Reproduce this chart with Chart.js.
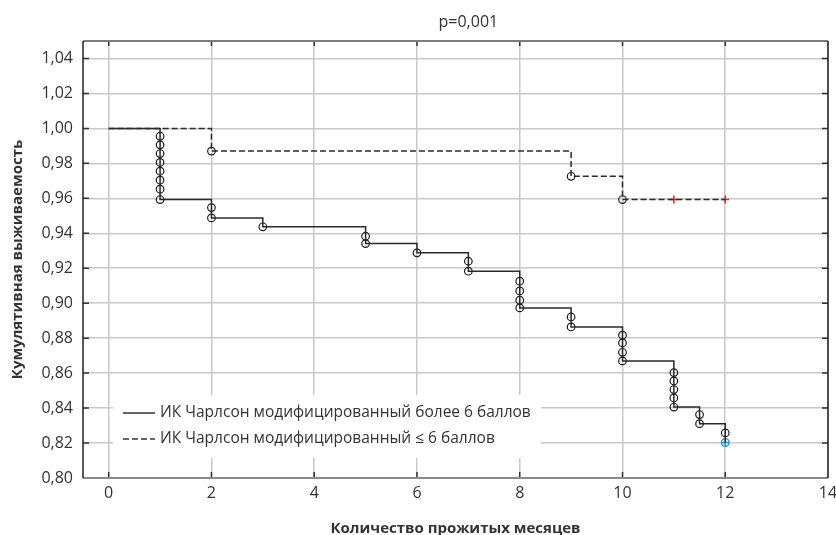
<!DOCTYPE html>
<html>
<head>
<meta charset="utf-8">
<script src="https://cdn.jsdelivr.net/npm/chart.js@4.4.1/dist/chart.umd.min.js"></script>
<style>
    html, body { margin: 0; padding: 0; background: #fff; }
    #wrap { width: 836px; height: 535px; }
</style>
</head>
<body>
<div id="wrap"><canvas id="km"></canvas></div>
<script>
// кривые выживаемости Каплана-Мейера, две группы по ИК Чарлсон

// группа "более 6 баллов" (сплошная линия)
var timeHigh = [0, 1, 2, 3, 5, 6, 7, 8, 9, 10, 11, 11.5, 12];
var survHigh = [1.000, 0.9593, 0.9488, 0.9437, 0.9341, 0.9288, 0.9183, 0.8973, 0.8864, 0.8670, 0.8406, 0.8311, 0.8203];

// события (кружки) для сплошной линии
var eventTimeHigh = [1, 1, 1, 1, 1, 1, 1, 1, 2, 2, 3, 5, 5, 6, 7, 7, 8, 8, 8, 8, 9, 9, 10, 10, 10, 10, 11, 11, 11, 11, 11, 11.5, 11.5, 12];
var eventSurvHigh = [0.9955, 0.9906, 0.9856, 0.9805, 0.9755, 0.9704, 0.9652, 0.9593,
    0.9547, 0.9488, 0.9437, 0.9383, 0.9341, 0.9288, 0.9240, 0.9183,
    0.9126, 0.9070, 0.9017, 0.8973, 0.8921, 0.8864,
    0.8817, 0.8773, 0.8719, 0.8670, 0.8603, 0.8555, 0.8506, 0.8458, 0.8406,
    0.8363, 0.8311, 0.8258];

// последняя точка (синяя метка)
var lastTimeHigh = [12];
var lastSurvHigh = [0.8203];

// группа "<= 6 баллов" (пунктир)
var timeLow = [0, 2, 9, 10, 12];
var survLow = [1.000, 0.9870, 0.9726, 0.9593, 0.9593];
var eventTimeLow = [2, 9, 10];
var eventSurvLow = [0.9870, 0.9726, 0.9593];
// цензурированные (красные крестики)
var censTimeLow = [11, 12];
var censSurvLow = [0.9593, 0.9593];

var seriesNames = ['ИК Чарлсон модифицированный более 6 баллов', 'ИК Чарлсон модифицированный ≤ 6 баллов'];
var titleText = 'p=0,001';
var xAxisTitle = 'Количество прожитых месяцев';
var yAxisTitle = 'Кумулятивная выживаемость';

var FONT = '"Open Sans", "Noto Sans", sans-serif';
var TEXT = '#333';

function toPoints(xs, ys) {
    var pts = [];
    for (var i = 0; i < xs.length; i++) pts.push({ x: xs[i], y: ys[i] });
    return pts;
}

// рамка и внутренние засечки
var framePlugin = {
    id: 'frame',
    afterDatasetsDraw: function (chart) {
        var ctx = chart.ctx, a = chart.chartArea;
        var xs = chart.scales.x, ys = chart.scales.y;
        ctx.save();
        ctx.strokeStyle = '#333';
        ctx.lineWidth = 1.5;
        ctx.beginPath();
        xs.ticks.forEach(function (t) {
            var px = xs.getPixelForValue(t.value);
            if (px > a.right - 2 || px < a.left + 2) return;
            ctx.moveTo(px, a.bottom); ctx.lineTo(px, a.bottom - 6);
            ctx.moveTo(px, a.top); ctx.lineTo(px, a.top + 5);
        });
        ys.ticks.forEach(function (t) {
            var py = ys.getPixelForValue(t.value);
            if (py > a.bottom - 2 || py < a.top + 2) return;
            ctx.moveTo(a.left, py); ctx.lineTo(a.left + 6, py);
            ctx.moveTo(a.right, py); ctx.lineTo(a.right - 6, py);
        });
        ctx.stroke();

        ctx.lineWidth = 2;
        ctx.strokeStyle = '#7c7c7c';
        ctx.beginPath();
        ctx.moveTo(a.left, a.top); ctx.lineTo(a.right, a.top);
        ctx.stroke();
        ctx.strokeStyle = '#8a8a8a';
        ctx.beginPath();
        ctx.moveTo(a.left, a.bottom); ctx.lineTo(a.right, a.bottom);
        ctx.stroke();
        ctx.lineWidth = 1.5;
        ctx.strokeStyle = '#222';
        ctx.beginPath();
        ctx.moveTo(a.left, a.top); ctx.lineTo(a.left, a.bottom);
        ctx.moveTo(a.right, a.top); ctx.lineTo(a.right, a.bottom);
        ctx.stroke();

        // заголовок над графиком
        ctx.fillStyle = TEXT;
        ctx.font = '16px ' + FONT;
        ctx.textAlign = 'center';
        ctx.textBaseline = 'middle';
        ctx.fillText(titleText, xs.getPixelForValue(7), 22);
        ctx.restore();
    }
};

// легенда внутри области графика
var legendPlugin = {
    id: 'kmLegend',
    beforeDatasetsDraw: function (chart) {
        var ctx = chart.ctx, a = chart.chartArea;
        var left = a.left + 30, top = a.bottom - 83;
        ctx.save();
        ctx.fillStyle = '#fff';
        ctx.fillRect(left, top, 428, 63);

        var rows = [top + 18, top + 44];
        ctx.strokeStyle = '#333';
        ctx.lineWidth = 1.5;
        for (var i = 0; i < 2; i++) {
            ctx.setLineDash(i === 0 ? [] : [6, 3]);
            ctx.beginPath();
            ctx.moveTo(left + 10, rows[i]);
            ctx.lineTo(left + 42, rows[i]);
            ctx.stroke();
        }
        ctx.setLineDash([]);
        ctx.fillStyle = TEXT;
        ctx.font = '15.5px ' + FONT;
        ctx.textAlign = 'left';
        ctx.textBaseline = 'middle';
        for (var j = 0; j < 2; j++) {
            ctx.fillText(seriesNames[j], left + 47, rows[j]);
        }
        ctx.restore();
    }
};

var ctx = document.getElementById('km').getContext('2d');

var chart = new Chart(ctx, {
    type: 'scatter',
    data: {
        datasets: [
            {
                type: 'line',
                data: toPoints(timeHigh, survHigh),
                stepped: true,
                borderColor: '#2a2a2a',
                borderWidth: 1.5,
                pointRadius: 0,
                fill: false
            },
            {
                type: 'line',
                data: toPoints(timeLow, survLow),
                stepped: true,
                borderColor: '#2a2a2a',
                borderWidth: 1.5,
                borderDash: [6, 3],
                pointRadius: 0,
                fill: false
            },
            {
                data: toPoints(eventTimeHigh, eventSurvHigh),
                pointStyle: 'circle',
                pointRadius: 3.8,
                borderColor: '#1a1a1a',
                borderWidth: 1.2,
                backgroundColor: 'rgba(0,0,0,0)'
            },
            {
                data: toPoints(eventTimeLow, eventSurvLow),
                pointStyle: 'circle',
                pointRadius: 3.8,
                borderColor: '#1a1a1a',
                borderWidth: 1.2,
                backgroundColor: 'rgba(0,0,0,0)'
            },
            {
                data: toPoints(censTimeLow, censSurvLow),
                pointStyle: 'cross',
                pointRadius: 4,
                borderColor: '#e8262c',
                borderWidth: 1.5
            },
            {
                data: toPoints(lastTimeHigh, lastSurvHigh),
                pointStyle: 'circle',
                pointRadius: 3.8,
                borderColor: '#1e8fd8',
                borderWidth: 1.3,
                backgroundColor: 'rgba(0,0,0,0)'
            },
            {
                data: toPoints(lastTimeHigh, lastSurvHigh),
                pointStyle: 'cross',
                pointRadius: 3.8,
                borderColor: '#1e8fd8',
                borderWidth: 1.3
            }
        ]
    },
    options: {
        responsive: true,
        maintainAspectRatio: false,
        animation: false,
        layout: {
            padding: { top: 41, right: 8, left: 0, bottom: 0 }
        },
        scales: {
            x: {
                type: 'linear',
                min: -0.5,
                max: 14,
                afterFit: function (scale) {
                    scale.height = 57;
                    scale.paddingLeft = 0;
                    scale.paddingRight = 0;
                },
                ticks: {
                    stepSize: 2,
                    includeBounds: false,
                    color: TEXT,
                    padding: 6,
                    font: { family: FONT, size: 16 }
                },
                grid: { color: '#c8c8c8', lineWidth: 1.5, drawTicks: false },
                border: { display: false },
                title: {
                    display: true,
                    text: xAxisTitle,
                    color: TEXT,
                    padding: { top: 0, bottom: -3 },
                    font: { family: FONT, size: 15, weight: 'bold' }
                }
            },
            y: {
                type: 'linear',
                min: 0.80,
                max: 1.05,
                afterFit: function (scale) { scale.width = 83; },
                ticks: {
                    stepSize: 0.02,
                    includeBounds: false,
                    color: TEXT,
                    padding: 10,
                    font: { family: FONT, size: 16 },
                    callback: function (v) { return v.toFixed(2).replace('.', ','); }
                },
                grid: { color: '#c8c8c8', lineWidth: 1.5, drawTicks: false },
                border: { display: false },
                title: {
                    display: true,
                    text: yAxisTitle,
                    color: TEXT,
                    padding: { top: 9, bottom: 0 },
                    font: { family: FONT, size: 15, weight: 'bold' }
                }
            }
        },
        plugins: {
            legend: { display: false },
            tooltip: { enabled: false }
        }
    },
    plugins: [legendPlugin, framePlugin]
});
</script>
</body>
</html>
